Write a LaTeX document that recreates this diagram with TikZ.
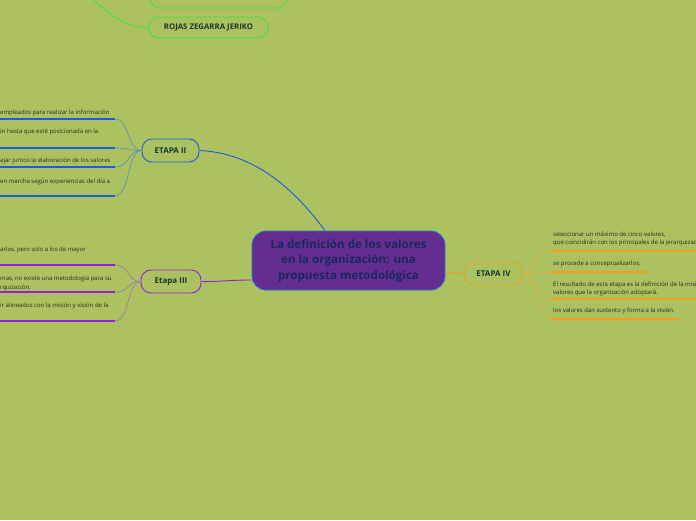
\documentclass[tikz,border=0pt]{standalone}
\usepackage{fontspec}
\setmainfont{Open Sans}
\definecolor{bg}{RGB}{172,193,96}
\definecolor{cpurple}{RGB}{100,45,145}
\definecolor{cborder}{RGB}{40,120,210}
\definecolor{ctext}{RGB}{25,40,90}
\definecolor{lbltext}{RGB}{25,55,50}
\definecolor{bblue}{RGB}{30,90,225}
\definecolor{lblue}{RGB}{90,135,200}
\definecolor{bpurp}{RGB}{150,30,225}
\definecolor{lpurp}{RGB}{165,110,195}
\definecolor{borange}{RGB}{240,160,25}
\definecolor{lorange}{RGB}{225,180,60}
\definecolor{bgreen}{RGB}{60,230,60}
\definecolor{smalltext}{RGB}{40,45,30}
\tikzset{
  etapa/.style={draw, rounded corners=10pt, minimum width=57pt, minimum height=23pt, line width=0.9pt, font=\fontsize{8}{9}\selectfont\bfseries, text=lbltext, inner sep=1pt},
  greenbox/.style={draw=bgreen, rounded corners=10pt, line width=0.9pt, font=\fontsize{7.8}{9}\selectfont\bfseries, text=lbltext, inner sep=1pt},
  small/.style={anchor=base west, inner sep=0pt, font=\fontsize{6}{8.5}\selectfont, text=smalltext, align=left},
  uline/.style={line width=1.4pt},
  conn/.style={line width=0.6pt}
}
\begin{document}
\begin{tikzpicture}[x=1pt,y=-1pt]
\clip (0,0) rectangle (696,520);
\fill[bg] (0,0) rectangle (696,520);

% central
\node[draw=cborder, fill=cpurple, rounded corners=14pt, line width=0.8pt, minimum width=193pt, minimum height=59pt, align=center, text=ctext, font=\fontsize{11.6}{15.5}\selectfont\bfseries, inner sep=2pt] (c) at (348.5,260.5) {La definición de los valores\\en la organización: una\\propuesta metodológica};

% green boxes at top
\node[greenbox, minimum width=137pt, minimum height=23pt] (g1) at (218.5,-3.5) {};
\node[greenbox, minimum width=119pt, minimum height=21pt] (g2) at (208.5,27.5) {ROJAS ZEGARRA JERIKO};
\coordinate (gtop) at (92,-2);
\draw[bgreen, line width=0.8pt] (gtop) .. controls (115,20) and (130,28) .. (g2.west);

% ETAPA II
\node[etapa, draw=bblue] (e2) at (170.5,150.5) {ETAPA II};
\draw[bblue, line width=0.9pt] (e2.east) .. controls (255,153) and (295,190) .. (c.north -| 325,0);

% Etapa III
\node[etapa, draw=bpurp, minimum width=60pt] (e3) at (171,281.5) {Etapa III};
\draw[bpurp, line width=0.9pt] (c.west |- 0,280) .. controls (230,280) and (215,282) .. (e3.east);

% ETAPA IV
\node[etapa, draw=borange, minimum width=59pt] (e4) at (493.5,273.5) {ETAPA IV};
\draw[borange, line width=0.9pt] (c.east |- 0,272) -- (e4.west);

% ETAPA II children
\coordinate (a1) at (115,119);
\coordinate (a2) at (115,148);
\coordinate (a3) at (115,167);
\coordinate (a4) at (115,196);
\node[small] (ta1) at (0,114) {empleados para realizar la información};
\node[small] (ta2) at (-2,133) {ón hasta que esté posicionada en la};
\node[small] (ta3) at (0,162) {ajar juntos la elaboración de los valores};
\node[small] (ta4) at (0,183) {en marcha según experiencias del día a};
\foreach \p in {a1,a2,a3,a4}{
  \draw[bblue, uline] (-5,0 |- \p) -- (\p);
  \draw[lblue, conn] (e2.west) .. controls (127,150.5) and (130,0 |- \p) .. (\p);
}

% Etapa III children
\coordinate (b1) at (115,265);
\coordinate (b2) at (115,292);
\coordinate (b3) at (115,321);
\node[small] (tb1) at (0,251) {arlos, pero solo a los de mayor};
\node[small] (tb2) at (0,289) {mas, no existe una metodología para su\\rquización.};
\node[small] (tb3) at (0,307) {ir alineados con la misión y visión de la};
\foreach \p in {b1,b2,b3}{
  \draw[bpurp, uline] (-5,0 |- \p) -- (\p);
  \draw[lpurp, conn] (e3.west) .. controls (127,281.5) and (130,0 |- \p) .. (\p);
}

% ETAPA IV children
\coordinate (d1) at (550,251);
\coordinate (d2) at (550,272);
\coordinate (d3) at (550,299);
\coordinate (d4) at (550,319);
\node[small] (td1) at (553,244.5) {seleccionar un máximo de cinco valores,\\que coincidirán con los principales de la jerarquización};
\node[small] (td2) at (553,265) {se procede a conceptualizarlos.};
\node[small] (td3) at (553,294.5) {El resultado de esta etapa es la definición de la misión\\valores que la organización adoptará.};
\node[small] (td4) at (553,312) {los valores dan sustento y forma a la visión.};
\draw[borange, uline] (d1) -- (700,251);
\draw[borange, uline] (d2) -- (647,272);
\draw[borange, uline] (d3) -- (700,299);
\draw[borange, uline] (d4) -- (679,319);
\foreach \p in {d1,d2,d3,d4}{
  \draw[lorange, conn] (e4.east) .. controls (537,273.5) and (535,0 |- \p) .. (\p);
}
\end{tikzpicture}
\end{document}
